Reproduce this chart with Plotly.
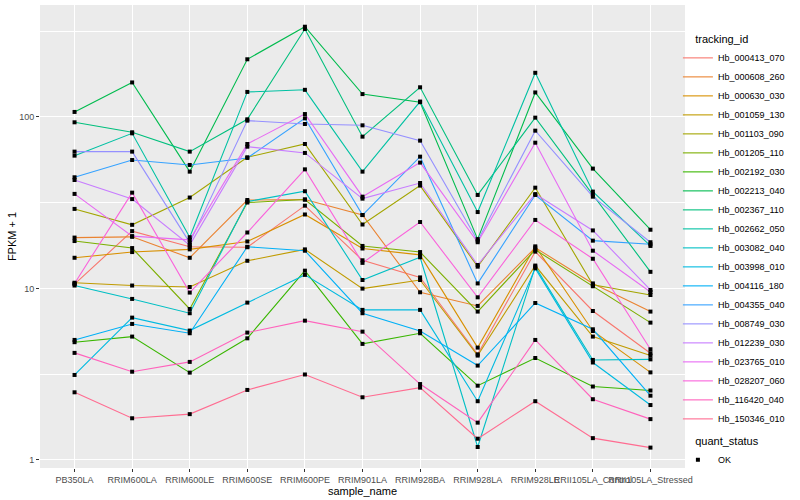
import plotly.graph_objects as go

samples = ["PB350LA", "RRIM600LA", "RRIM600LE", "RRIM600SE", "RRIM600PE", "RRIM901LA",
           "RRIM928BA", "RRIM928LA", "RRIM928LE", "RRII105LA_Control", "RRII105LA_Stressed"]

tracking_ids = ["Hb_000413_070", "Hb_000608_260", "Hb_000630_030", "Hb_001059_130", "Hb_001103_090",
                "Hb_001205_110", "Hb_002192_030", "Hb_002213_040", "Hb_002367_110", "Hb_002662_050",
                "Hb_003082_040", "Hb_003998_010", "Hb_004116_180", "Hb_004355_040", "Hb_008749_030",
                "Hb_012239_030", "Hb_023765_010", "Hb_028207_060", "Hb_116420_040", "Hb_150346_010"]

colors = ["#F8766D", "#EA8331", "#D89000", "#C09B00", "#A3A500", "#7CAE00", "#39B600", "#00BB4E",
          "#00BF7D", "#00C1A3", "#00BFC4", "#00BAE0", "#00B0F6", "#35A2FF", "#9590FF", "#C77CFF",
          "#E76BF3", "#FA62DB", "#FF62BC", "#FF6C91"]

Hb_000413_070 = [10.6, 21.6, 17.5, 17.4, 30.4, 14.6, 11.6, 4.13, 16.4, 7.39, 4.19]
Hb_000608_260 = [19.8, 20.0, 15.1, 32.8, 33.0, 26.8, 9.5, 7.91, 17.3, 10.7, 7.33]
Hb_000630_030 = [15.1, 16.3, 16.9, 18.8, 27.0, 17.1, 15.7, 4.52, 17.6, 5.65, 3.24]
Hb_001059_130 = [10.8, 10.4, 10.2, 14.5, 16.9, 9.98, 11.2, 4.06, 13.6, 5.24, 4.06]
Hb_001103_090 = [29.1, 23.5, 33.9, 58.2, 69.6, 23.6, 39.8, 13.4, 38.7, 10.5, 9.16]
Hb_001205_110 = [18.9, 17.2, 7.59, 31.7, 33.0, 17.7, 16.3, 7.33, 16.8, 10.3, 6.32]
Hb_002192_030 = [4.86, 5.24, 3.23, 5.12, 12.7, 4.75, 5.48, 2.71, 3.93, 2.68, 2.54]
Hb_002213_040 = [107, 159, 48.0, 217, 336, 136, 122, 19.4, 139, 50.0, 22.0]
Hb_002367_110 = [93.1, 81.4, 62.8, 96.9, 326, 76.8, 149, 35.1, 99.1, 35.4, 12.5]
Hb_002662_050 = [59.5, 80.3, 19.9, 140, 144, 48.0, 123, 27.9, 181, 36.7, 17.7]
Hb_003082_040 = [10.4, 8.69, 7.17, 32.1, 36.9, 11.2, 15.2, 1.19, 13.4, 3.83, 3.86]
Hb_003998_010 = [3.13, 6.76, 5.68, 8.27, 12.0, 7.50, 7.50, 2.20, 13.1, 3.70, 2.09]
Hb_004116_180 = [5.01, 6.21, 5.48, 17.5, 16.6, 7.17, 5.65, 3.55, 8.23, 5.78, 2.37]
Hb_004355_040 = [44.5, 56.1, 52.5, 57.7, 98.2, 26.8, 58.7, 10.7, 35.1, 19.0, 18.1]
Hb_008749_030 = [62.8, 62.8, 18.5, 95.2, 91.0, 89.4, 72.8, 19.0, 83.2, 34.3, 18.6]
Hb_012239_030 = [42.9, 33.2, 17.9, 67.1, 61.7, 33.4, 41.2, 13.7, 35.5, 21.8, 9.80]
Hb_023765_010 = [35.6, 20.2, 19.2, 69.6, 104, 34.3, 54.2, 18.6, 70.8, 16.6, 9.54]
Hb_028207_060 = [10.7, 36.2, 9.46, 21.2, 49.5, 14.1, 24.4, 8.88, 25.1, 14.9, 4.42]
Hb_116420_040 = [4.21, 3.27, 3.73, 5.53, 6.49, 5.60, 2.77, 1.65, 5.01, 2.26, 1.73]
Hb_150346_010 = [2.48, 1.75, 1.85, 2.56, 3.15, 2.32, 2.64, 1.33, 2.20, 1.34, 1.18]

series = [Hb_000413_070, Hb_000608_260, Hb_000630_030, Hb_001059_130, Hb_001103_090,
          Hb_001205_110, Hb_002192_030, Hb_002213_040, Hb_002367_110, Hb_002662_050,
          Hb_003082_040, Hb_003998_010, Hb_004116_180, Hb_004355_040, Hb_008749_030,
          Hb_012239_030, Hb_023765_010, Hb_028207_060, Hb_116420_040, Hb_150346_010]

FONT = "Liberation Sans, Arial, sans-serif"

fig = go.Figure()
for tid, col, vals in zip(tracking_ids, colors, series):
    fig.add_trace(go.Scatter(x=samples, y=vals, mode="lines", name=tid,
                             line=dict(color=col, width=1.1), legend="legend"))

all_x = [s for vals in series for s in samples]
all_y = [v for vals in series for v in vals]
fig.add_trace(go.Scatter(x=all_x, y=all_y, mode="markers", name="OK",
                         marker=dict(color="black", size=4, symbol="square"),
                         legend="legend2"))

fig.update_layout(
    width=800, height=500,
    margin=dict(l=40, r=115, t=5, b=32, autoexpand=False),
    paper_bgcolor="white", plot_bgcolor="#EBEBEB",
    font=dict(family=FONT, color="black"),
    xaxis=dict(type="category", range=[-0.6, 10.6], showgrid=True, gridcolor="white",
               gridwidth=1.1, zeroline=False, showline=False, ticks="outside", ticklen=3,
               tickcolor="#333333", tickwidth=1, tickangle=0,
               tickfont=dict(size=9, color="#4D4D4D", family=FONT),
               title=dict(text="sample_name", font=dict(size=11, color="black"), standoff=0)),
    yaxis=dict(type="log", range=[-0.047, 2.653], tickvals=[1, 10, 100], ticktext=["1", "10", "100"],
               showgrid=True, gridcolor="white", gridwidth=1.1, zeroline=False, showline=False,
               ticks="outside", ticklen=3, tickcolor="#333333", tickwidth=1,
               tickfont=dict(size=9, color="#4D4D4D", family=FONT),
               minor=dict(tickvals=[3.1623, 31.623, 316.23], showgrid=True, gridcolor="white",
                          gridwidth=0.5, ticks=""),
               title=dict(text="FPKM + 1", font=dict(size=11, color="black"), standoff=0)),
    legend=dict(x=0.989, y=0.948, xanchor="left", yanchor="top", bgcolor="rgba(0,0,0,0)",
                font=dict(size=9, family=FONT), tracegroupgap=0, itemwidth=30,
                title=dict(text="\u00a0\u00a0\u00a0\u00a0\u00a0tracking_id", font=dict(size=11))),
    legend2=dict(x=0.989, y=0.08, xanchor="left", yanchor="top", bgcolor="rgba(0,0,0,0)",
                 font=dict(size=9, family=FONT), itemwidth=30,
                 title=dict(text="\u00a0\u00a0\u00a0\u00a0\u00a0quant_status", font=dict(size=11))),
)

fig.write_html("out.html", config={"displayModeBar": False},
               post_script="document.body.style.margin='0px';")
